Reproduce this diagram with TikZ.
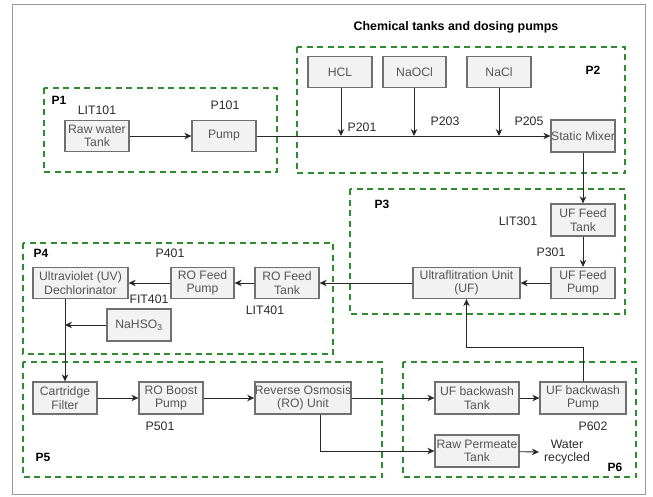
\documentclass[tikz,border=0pt]{standalone}
\usepackage{fontspec}
\setmainfont{Liberation Sans}
\usetikzlibrary{arrows.meta}
\definecolor{boxgray}{HTML}{707070}
\definecolor{boxfill}{HTML}{F2F2F2}
\definecolor{txtgray}{HTML}{555555}
\definecolor{lblgray}{HTML}{2A2A2A}
\definecolor{dgreen}{RGB}{45,140,45}
\definecolor{framegray}{HTML}{9A9A9A}
\tikzset{
  box/.style={draw=boxgray, fill=boxfill, line width=1.3pt, text=txtgray,
    font=\fontsize{12.2}{13.5}\selectfont, align=center, inner sep=0pt,
    minimum height=31pt, minimum width=64pt},
  lbl/.style={text=lblgray, font=\fontsize{12.3}{13.5}\selectfont, inner sep=0pt, align=center},
  plbl/.style={text=black, font=\bfseries\fontsize{12}{13}\selectfont, inner sep=0pt},
  grp/.style={draw=dgreen, line width=1.8pt, dash pattern=on 6pt off 4.5pt},
  arr/.style={draw=black!85, line width=0.9pt, -{Stealth[length=7pt,width=6.5pt]}},
  ln/.style={draw=black!85, line width=0.9pt}
}
\begin{document}
\begin{tikzpicture}[x=1pt,y=-1pt]
\useasboundingbox (0,0) rectangle (653,496);
\draw[framegray, line width=1pt] (12,4) rectangle (645,494);

% groups
\draw[grp] (44,88) rectangle (277,172);
\draw[grp] (297,47) rectangle (625,173);
\draw[grp] (350,189) rectangle (625,314);
\draw[grp] (23,243) rectangle (333,354);
\draw[grp] (23,362) rectangle (382,477);
\draw[grp] (403,362) rectangle (636,477);

\node[text=black, font=\bfseries\fontsize{12.4}{14}\selectfont] (title) at (456,27) {Chemical tanks and dosing pumps};

% group labels
\node[plbl] (p1) at (59,100) {P1};
\node[plbl] (p2) at (593,70) {P2};
\node[plbl] (p3) at (382,204) {P3};
\node[plbl] (p4) at (41,253) {P4};
\node[plbl] (p5) at (43,457) {P5};
\node[plbl] (p6) at (615,467) {P6};

% boxes
\node[box] (raw) at (97,136) {Raw water\\Tank};
\node[box] (pump) at (224,136) {Pump};
\node[box] (hcl) at (340,72) {HCL};
\node[box, minimum width=63pt] (naocl) at (414.5,72) {NaOCl};
\node[box] (nacl) at (499,72) {NaCl};
\node[box, minimum height=32pt] (mixer) at (583,136) {Static Mixer};
\node[box, minimum height=32pt] (uft) at (583,220) {UF Feed\\Tank};
\node[box] (ufp) at (583,283) {UF Feed\\Pump};
\node[box, minimum width=107pt] (uf) at (466.5,283) {Ultraflitration Unit\\(UF)};
\node[box] (rot) at (287,283) {RO Feed\\Tank};
\node[box, minimum width=63pt] (rop) at (202.5,283) {RO Feed\\Pump};
\node[box, minimum width=95pt] (uv) at (80.5,283) {Ultraviolet (UV)\\Dechlorinator};
\node[box, minimum height=32pt] (nahso) at (139,325) {NaHSO\textsubscript{3}};
\node[box, minimum height=32pt] (cart) at (65,398) {Cartridge\\Filter};
\node[box, minimum height=32pt] (rob) at (171,398) {RO Boost\\Pump};
\node[box, minimum width=96pt, minimum height=32pt] (ro) at (303,398) {Reverse Osmosis\\(RO) Unit};
\node[box, minimum width=84pt, minimum height=32pt] (ubt) at (477,398) {UF backwash\\Tank};
\node[box, minimum width=86pt, minimum height=32pt] (ubp) at (583,398) {UF backwash\\Pump};
\node[box, minimum width=84pt, minimum height=32pt] (rpt) at (477,451) {Raw Permeate\\Tank};

% labels
\node[lbl] (lit101) at (97,110) {LIT101};
\node[lbl] (p101) at (225,105) {P101};
\node[lbl] (p201) at (362,127) {P201};
\node[lbl] (p203) at (445,121) {P203};
\node[lbl] (p205) at (529,121) {P205};
\node[lbl] (lit301) at (518,221) {LIT301};
\node[lbl] (p301) at (551,252) {P301};
\node[lbl] (p401) at (170,253) {P401};
\node[lbl] (fit401) at (149,299) {FIT401};
\node[lbl] (lit401) at (265,310) {LIT401};
\node[lbl] (p501) at (160,426) {P501};
\node[lbl] (p602) at (593,426) {P602};
\node[lbl, inner xsep=5pt] (water) at (567,452) {Water\\recycled};

% junctions
\coordinate (j1) at (341,136);
\coordinate (j2) at (414,136);
\coordinate (j3) at (499,136);

% connectors
\draw[arr] (raw) -- (pump);
\draw[arr] (pump) -- (mixer);
\draw[arr] (hcl.south -| j1) -- (j1);
\draw[arr] (naocl.south -| j2) -- (j2);
\draw[arr] (nacl.south -| j3) -- (j3);
\draw[arr] (mixer) -- (uft);
\draw[arr] (uft) -- (ufp);
\draw[arr] (ufp) -- (uf);
\draw[arr] (uf) -- (rot);
\draw[arr] (rot) -- (rop);
\draw[arr] (rop) -- (uv);
\draw[arr] (uv.south -| cart) -- (cart.north);
\draw[arr] (nahso.west) -- (nahso.west -| cart);
\draw[arr] (cart) -- (rob);
\draw[arr] (rob) -- (ro);
\draw[arr] (ro) -- (ubt);
\draw[arr] (ubt) -- (ubp);
\draw[arr] ([xshift=17pt]ro.south) |- (rpt.west);
\draw[arr] (rpt) -- (water.west);
\draw[arr] (ubp.north) -- ++(0,-34) -| (uf.south);
\end{tikzpicture}
\end{document}
